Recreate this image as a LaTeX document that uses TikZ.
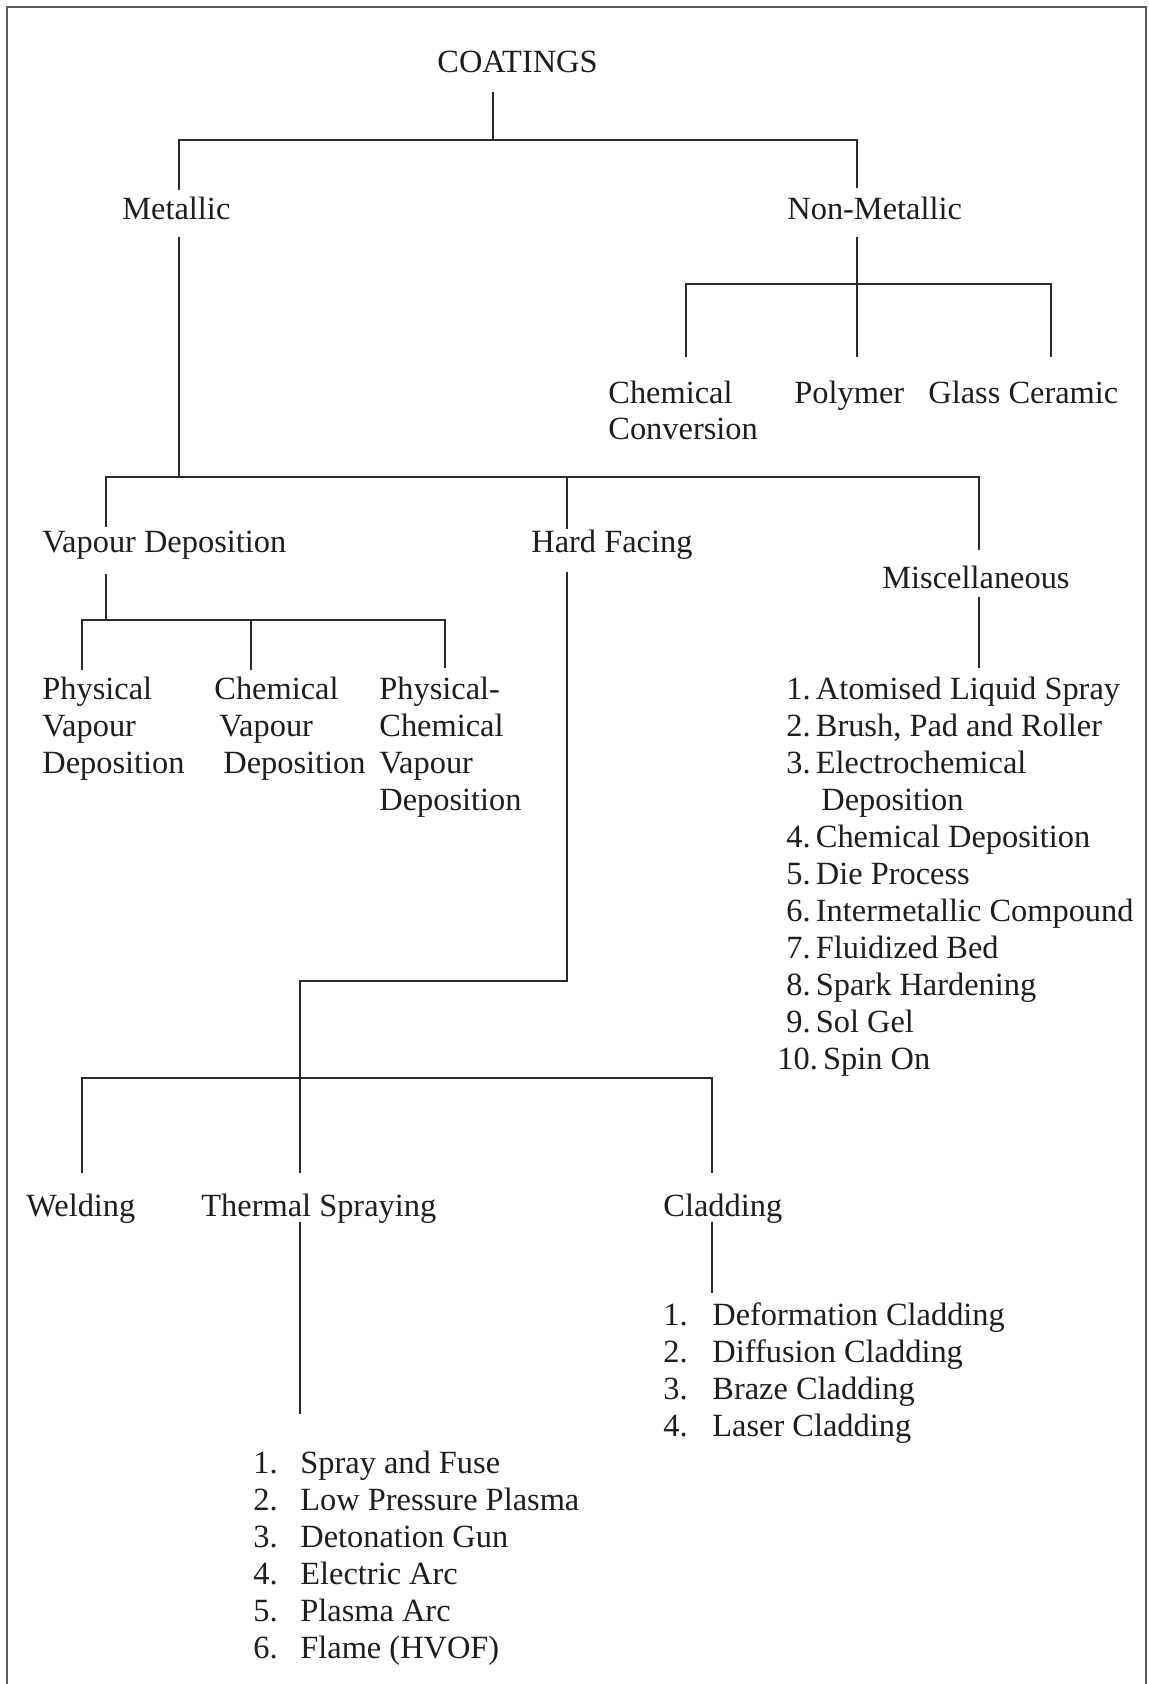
\documentclass[tikz,border=0pt]{standalone}
\usepackage{fontspec}
\setmainfont{Liberation Serif}
\definecolor{ink}{HTML}{1E1E1E}
\definecolor{rule}{HTML}{2A2A2A}
\definecolor{framegray}{HTML}{5A5A5A}
\tikzset{
  lbl/.style={anchor=base west, inner sep=0pt, text=ink,
              font=\fontsize{16.2pt}{18.5pt}\selectfont},
  tie/.style={draw=rule, line width=0.8pt},
  outline/.style={draw=framegray, line width=1.1pt}
}
\newcommand{\stack}[1]{\begin{tabular}[t]{@{}l@{}}#1\end{tabular}}
\newcommand{\num}[2]{\makebox[#1][l]{#2}}
\newcommand{\itm}[2]{#1\hspace{2.6pt}#2}
\begin{document}
\begin{tikzpicture}[x=0.5pt, y=-0.5pt]
\useasboundingbox (0,0) rectangle (1148,1684);
\fill[white] (0,0) rectangle (1148,1684);

% page frame
\draw[outline] (7,1684) -- (7,7) -- (1146,7) -- (1146,1684);

% ---------- labels ----------
\node[lbl] (coat)  at (437,73)  {COATINGS};
\node[lbl] (met)   at (122,220) {Metallic};
\node[lbl] (nonmet) at (787,220) {Non-Metallic};
\node[lbl,font=\fontsize{16.2pt}{17.5pt}\selectfont] (chconv) at (608,404) {\stack{Chemical\\Conversion}};
\node[lbl] (poly)  at (794,404) {Polymer};
\node[lbl] (glass) at (928,404) {Glass Ceramic};

\node[lbl] (vapdep) at (42,552)  {Vapour Deposition};
\node[lbl] (hard)   at (531,552) {Hard Facing};
\node[lbl] (misc)   at (882,588) {Miscellaneous};

\node[lbl] (pvd)  at (42,699)  {\stack{Physical\\Vapour\\Deposition}};
\node[lbl] (cvd)  at (214,699) {\stack{Chemical\\\hspace*{2.5pt}Vapour\\\hspace*{4.5pt}Deposition}};
\node[lbl] (pcvd) at (379,699) {\stack{Physical-\\Chemical\\Vapour\\Deposition}};

\node[lbl] (misclist) at (786,699) {\stack{%
  \itm{1.}{Atomised Liquid Spray}\\
  \itm{2.}{Brush, Pad and Roller}\\
  \itm{3.}{Electrochemical}\\
  \hspace*{17.5pt}Deposition\\
  \itm{4.}{Chemical Deposition}\\
  \itm{5.}{Die Process}\\
  \itm{6.}{Intermetallic Compound}\\
  \itm{7.}{Fluidized Bed}\\
  \itm{8.}{Spark Hardening}\\
  \itm{9.}{Sol Gel}\\
  \hspace*{-4.5pt}\itm{10.}{Spin On}}};

\node[lbl] (weld)  at (26,1216)  {Welding};
\node[lbl] (therm) at (201,1216) {Thermal Spraying};
\node[lbl] (clad)  at (663,1216) {Cladding};

\node[lbl] (cladlist) at (663,1325) {\stack{%
  \num{24.5pt}{1.}Deformation Cladding\\
  \num{24.5pt}{2.}Diffusion Cladding\\
  \num{24.5pt}{3.}Braze Cladding\\
  \num{24.5pt}{4.}Laser Cladding}};

\node[lbl] (thermlist) at (253,1473) {\stack{%
  \num{23.5pt}{1.}Spray and Fuse\\
  \num{23.5pt}{2.}Low Pressure Plasma\\
  \num{23.5pt}{3.}Detonation Gun\\
  \num{23.5pt}{4.}Electric Arc\\
  \num{23.5pt}{5.}Plasma Arc\\
  \num{23.5pt}{6.}Flame (HVOF)}};

% ---------- connector ends and junctions ----------
\coordinate (coat-b)   at (493,92);
\coordinate (j-root)   at (493,140);
\coordinate (met-t)    at (179,190);
\coordinate (met-b)    at (179,237);
\coordinate (nonmet-t) at (857,188);
\coordinate (nonmet-b) at (857,237);
\coordinate (j-nm)     at (857,284);
\coordinate (chconv-t) at (686,357);
\coordinate (poly-t)   at (857,357);
\coordinate (glass-t)  at (1051,357);
\coordinate (j-met)    at (179,477);
\coordinate (vapdep-t) at (106,527);
\coordinate (vapdep-b) at (106,574);
\coordinate (hard-t)   at (567,529);
\coordinate (hard-b)   at (567,572);
\coordinate (misc-t)   at (979,550);
\coordinate (misc-b)   at (979,597);
\coordinate (misclist-t) at (979,668);
\coordinate (j-vd)     at (106,620);
\coordinate (pvd-t)    at (82,670);
\coordinate (cvd-t)    at (251,670);
\coordinate (pcvd-t)   at (445,668);
\coordinate (j-hard)   at (567,981);
\coordinate (therm-t)  at (300,1173);
\coordinate (therm-b)  at (300,1222);
\coordinate (thermlist-t) at (300,1414);
\coordinate (weld-t)   at (82,1173);
\coordinate (clad-t)   at (712,1173);
\coordinate (clad-b)   at (712,1222);
\coordinate (cladlist-t) at (712,1293);
\coordinate (bar-low)  at (82,1078);

% ---------- connectors ----------
\draw[tie] (coat-b) -- (j-root);
\draw[tie] (met-t) |- (j-root) -| (nonmet-t);

\draw[tie] (nonmet-b) -- (poly-t);
\draw[tie] (chconv-t) |- (j-nm) -| (glass-t);

\draw[tie] (met-b) -- (j-met);
\draw[tie] (vapdep-t) |- (j-met) -| (misc-t);
\draw[tie] (hard-t) -- (hard-t |- j-met);

\draw[tie] (vapdep-b) -- (j-vd);
\draw[tie] (pvd-t) |- (j-vd) -| (pcvd-t);
\draw[tie] (cvd-t) -- (cvd-t |- j-vd);

\draw[tie] (misc-b) -- (misclist-t);

\draw[tie] (hard-b) -- (j-hard) -| (therm-t);
\draw[tie] (weld-t) -- (bar-low) -| (clad-t);

\draw[tie] (therm-b) -- (thermlist-t);
\draw[tie] (clad-b) -- (cladlist-t);
\end{tikzpicture}
\end{document}
